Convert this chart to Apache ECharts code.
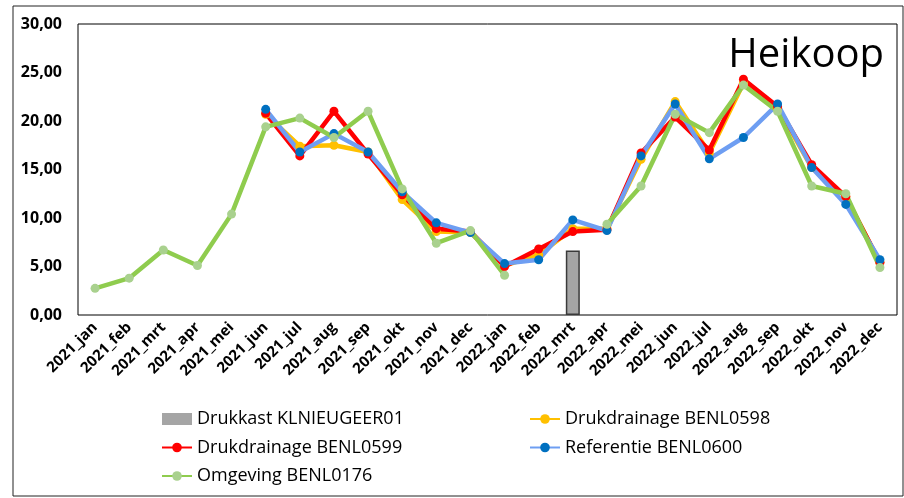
<!DOCTYPE html>
<html>
<head>
<meta charset="utf-8">
<script src="https://cdn.jsdelivr.net/npm/echarts@6/dist/echarts.min.js"></script>
<style>
  html, body { margin: 0; padding: 0; background: #fff; }
  #chart { width: 904px; height: 498px; }
</style>
</head>
<body>
<div id="chart"></div>
<script>
// maanden
var months = ['2021_jan', '2021_feb', '2021_mrt', '2021_apr', '2021_mei', '2021_jun',
  '2021_jul', '2021_aug', '2021_sep', '2021_okt', '2021_nov', '2021_dec',
  '2022_jan', '2022_feb', '2022_mrt', '2022_apr', '2022_mei', '2022_jun',
  '2022_jul', '2022_aug', '2022_sep', '2022_okt', '2022_nov', '2022_dec'];

var yTicks = [0, 5, 10, 15, 20, 25, 30];

var drukkast = [null, null, null, null, null, null, null, null, null, null, null, null,
  null, null, 6.65, null, null, null, null, null, null, null, null, null];

var benl0598 = [null, null, null, null, null, 20.7, 17.4, 17.5, 16.8, 11.9, 8.6, 8.5,
  5.1, 6.2, 8.9, 8.9, 16.05, 22.0, 16.7, 23.9, 21.4, 15.2, 12.2, 5.4];

var benl0599 = [null, null, null, null, null, 20.8, 16.4, 21.0, 16.6, 12.4, 8.9, 8.6,
  5.0, 6.8, 8.6, 8.8, 16.7, 20.4, 17.0, 24.3, 21.5, 15.5, 12.2, 5.4];

var benl0600 = [null, null, null, null, null, 21.2, 16.8, 18.7, 16.8, 12.7, 9.5, 8.5,
  5.3, 5.7, 9.8, 8.7, 16.4, 21.75, 16.1, 18.3, 21.75, 15.2, 11.4, 5.7];

var benl0176 = [2.75, 3.8, 6.7, 5.1, 10.4, 19.4, 20.3, 18.3, 21.0, 13.0, 7.4, 8.7,
  4.1, null, null, 9.35, 13.3, 20.7, 18.8, 23.7, 21.0, 13.3, 12.5, 4.9];

var myChart = echarts.init(document.getElementById('chart'), null, { renderer: 'canvas' });

function lijn(name, data, lineColor, dotColor) {
  return {
    name: name,
    type: 'line',
    data: data,
    symbol: 'circle',
    symbolSize: 9,
    lineStyle: { color: lineColor, width: 4.5 },
    itemStyle: { color: dotColor },
    emphasis: { disabled: true }
  };
}

var font = '"Open Sans", sans-serif';
var legendText = { fontSize: 18, lineHeight: 20, color: '#000', fontFamily: font };

myChart.setOption({
  animation: false,
  textStyle: { fontFamily: font },
  grid: { left: 78, right: 7, top: 24, bottom: 183, show: true, borderColor: '#000', borderWidth: 1 },
  graphic: [
    { type: 'rect', shape: { x: 13, y: 6, width: 890, height: 490 },
      style: { fill: 'none', stroke: '#222', lineWidth: 1 }, z: -1 },
    { type: 'text', right: 20, top: 36,
      style: { text: 'Heikoop', font: '40px "Open Sans", sans-serif', fill: '#000' } }
  ],
  legend: [
    {
      orient: 'vertical', left: 156, top: 404, itemGap: 8.5, itemWidth: 30, itemHeight: 12,
      textStyle: legendText,
      data: [
        { name: 'Drukkast KLNIEUGEER01', icon: 'rect', itemStyle: { borderWidth: 0, color: '#A5A5A5' } },
        'Drukdrainage BENL0599',
        'Omgeving BENL0176'
      ]
    },
    {
      orient: 'vertical', left: 524, top: 404, itemGap: 8.5, itemWidth: 30, itemHeight: 12,
      textStyle: legendText,
      data: ['Drukdrainage BENL0598', 'Referentie BENL0600']
    }
  ],
  xAxis: {
    type: 'category',
    data: months,
    axisLine: { show: false },
    axisTick: { show: false },
    axisLabel: { interval: 0, rotate: 45, margin: 10, fontSize: 15, fontWeight: 'bold', color: '#000' }
  },
  yAxis: {
    type: 'value',
    min: yTicks[0],
    max: yTicks[yTicks.length - 1],
    interval: 5,
    splitLine: { show: false },
    axisLine: { show: false },
    axisLabel: {
      margin: 16, fontSize: 16, fontWeight: 'bold', color: '#000',
      formatter: function (v) { return v.toFixed(2).replace('.', ','); }
    }
  },
  series: [
    {
      name: 'Drukkast KLNIEUGEER01',
      type: 'bar',
      data: drukkast,
      barWidth: 14,
      itemStyle: { color: '#A5A5A5', borderColor: '#3a3a3a', borderWidth: 1.5 }
    },
    lijn('Drukdrainage BENL0598', benl0598, '#FFC000', '#FFC000'),
    lijn('Drukdrainage BENL0599', benl0599, '#FF0000', '#FF0000'),
    lijn('Referentie BENL0600', benl0600, '#6E9EF2', '#0070C0'),
    lijn('Omgeving BENL0176', benl0176, '#8FCC4E', '#A9D18E')
  ]
});
</script>
</body>
</html>
